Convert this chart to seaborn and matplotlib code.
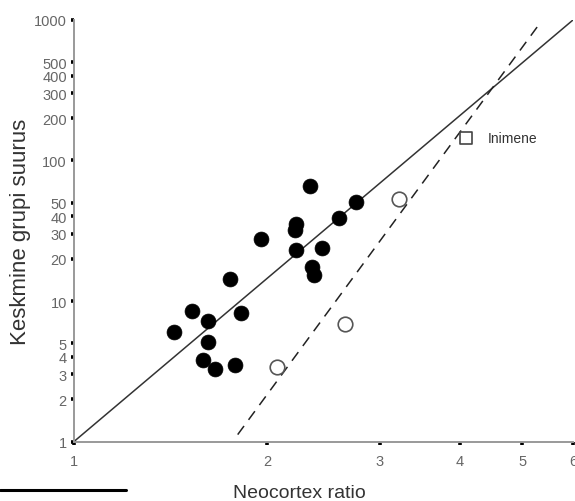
import numpy as np
import pandas as pd
import seaborn as sns
import matplotlib.pyplot as plt
from matplotlib.lines import Line2D
from matplotlib.ticker import FixedLocator, FixedFormatter, NullLocator

sns.set_style("white")
plt.rcParams['font.family'] = ['Liberation Sans', 'DejaVu Sans']

# täidetud ringid
ratio_filled = [2.33, 2.75, 2.59, 2.22, 2.21, 1.96, 2.22, 2.44, 2.35, 2.37,
                1.75, 1.53, 1.62, 1.82, 1.43, 1.62, 1.59, 1.66, 1.78]
group_filled = [65.5, 50.4, 39.0, 35.3, 32.2, 27.6, 23.2, 23.7, 17.5, 15.3,
                14.3, 8.5, 7.2, 8.2, 6.0, 5.1, 3.8, 3.3, 3.5]
# tühjad ringid
ratio_open = [2.07, 2.65, 3.21]
group_open = [3.4, 6.9, 53.2]
# inimene
ratio_human = [4.09]
group_human = [144.6]
human_label = "Inimene"

# regressioonijooned
solid_x = [1.0, 6.0]
solid_y = [1.0, 1000.0]
dashed_x = [1.80, 5.33]
dashed_y = [1.12, 950.0]

x_ticks = [1, 2, 3, 4, 5, 6]
y_ticks = [1, 2, 3, 4, 5, 10, 20, 30, 40, 50, 100, 200, 300, 400, 500, 1000]

df_f = pd.DataFrame({"x": ratio_filled, "y": group_filled})
df_o = pd.DataFrame({"x": ratio_open, "y": group_open})
df_h = pd.DataFrame({"x": ratio_human, "y": group_human})

fig = plt.figure(figsize=(5.75, 5.02), dpi=100)
ax = fig.add_axes([0.1287, 0.1185, 0.8678, 0.8397])
ax.set_xscale("log")
ax.set_yscale("log")

sns.lineplot(x=solid_x, y=solid_y, ax=ax, color="#333333", lw=1.1, sort=False)
sns.lineplot(x=dashed_x, y=dashed_y, ax=ax, color="#222222", lw=1.1,
             linestyle=(0, (7, 5)), sort=False)

sns.scatterplot(data=df_f, x="x", y="y", ax=ax, s=115, color="black",
                edgecolor="black", linewidth=0.5, zorder=3)
sns.scatterplot(data=df_o, x="x", y="y", ax=ax, s=110, facecolor="white",
                edgecolor="#555555", linewidth=1.2, zorder=3)
sns.scatterplot(data=df_h, x="x", y="y", ax=ax, s=70, marker="s",
                facecolor="white", edgecolor="#444444", linewidth=1.2, zorder=3)
ax.text(4.42, group_human[0], human_label, fontsize=10, color="#333333",
        va="center", ha="left")

ax.set_xlim(1, 6)
ax.set_ylim(1, 1000)
ax.xaxis.set_major_locator(FixedLocator(x_ticks))
ax.xaxis.set_major_formatter(FixedFormatter([str(v) for v in x_ticks]))
ax.yaxis.set_major_locator(FixedLocator(y_ticks))
ax.yaxis.set_major_formatter(FixedFormatter([str(v) for v in y_ticks]))
ax.xaxis.set_minor_locator(NullLocator())
ax.yaxis.set_minor_locator(NullLocator())

sns.despine(ax=ax)
for s in ["left", "bottom"]:
    ax.spines[s].set_color("#999999")
    ax.spines[s].set_linewidth(1.4)
ax.tick_params(axis="both", which="major", bottom=True, left=True,
               direction="out", length=2.2, width=2.6,
               color="black", labelcolor="#666666", labelsize=10.5)
ax.tick_params(axis="x", pad=7)
ax.tick_params(axis="y", pad=3)

ax.set_xlabel("Neocortex ratio", fontsize=14, color="#333333")
ax.set_ylabel("Keskmine grupi suurus", fontsize=16, color="#333333")
ax.xaxis.set_label_coords(0.451, -0.101)
ax.xaxis.label.set_va("top")
ax.yaxis.set_label_coords(-0.087, 0.5)

# joon lehe allservas
fig.add_artist(Line2D([0.0, 0.219], [0.022, 0.022], color="black", lw=2.2))

fig.savefig("out.png", dpi=100)
